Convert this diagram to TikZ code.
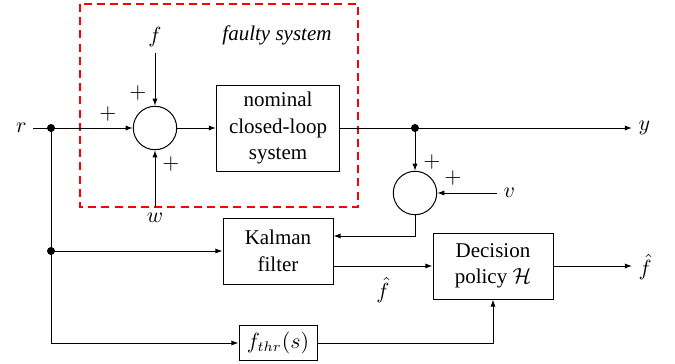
\documentclass[tikz,border=0pt]{standalone}
\usepackage{fontspec}
\setmainfont{LiberationSerif}[Extension=.ttf, UprightFont=*-Regular, ItalicFont=*-Italic, BoldFont=*-Bold, BoldItalicFont=*-BoldItalic]
\usetikzlibrary{arrows.meta,calc}
\tikzset{
  every picture/.style={line width=0.5pt},
  >={Latex[length=3.6pt,width=2.6pt]},
  blk/.style={draw, rectangle, inner sep=0pt, align=center, font=\fontsize{10.5}{13.25}\selectfont},
  sumc/.style={draw, circle, inner sep=0pt, minimum size=21.7pt},
  lbl/.style={inner sep=3pt, font=\fontsize{10.5}{13}\selectfont},
  pls/.style={inner sep=0pt, font=\fontsize{10.5}{13}\selectfont},
  dotc/.style={circle, fill, inner sep=0pt, minimum size=4pt},
  faultybox/.style={draw=red, dash pattern=on 4pt off 2.6pt, line width=0.75pt},
}
\begin{document}
\begin{tikzpicture}[x=0.5pt,y=-0.5pt]
\useasboundingbox (0,0) rectangle (675,364);
% faulty system frame
\draw[faultybox] (80,4) rectangle (358,207);
\node[lbl, font=\fontsize{10.5}{13}\selectfont\itshape] (faulty) at (277,35) {faulty system};
% blocks
\node[sumc] (sum1) at (155,128) {};
\node[blk, minimum width=61.5pt, minimum height=43pt] (nom) at (278,128) {nominal\\closed-loop\\system};
\node[sumc] (sum2) at (415,193) {};
\node[blk, minimum width=55pt, minimum height=33pt] (kal) at (278,251) {Kalman\\filter};
\node[blk, minimum width=60pt, minimum height=33pt] (dec) at (493,266) {Decision\\policy $\mathcal{H}$};
\node[blk, minimum width=39pt, minimum height=17.5pt] (thr) at (278,343) {$f_{thr}(s)$};
% junctions
\node[dotc] (j1) at (51,128) {};
\node[dotc] (j2) at (415,128) {};
\node[dotc] (j3) at (51,251) {};
% signal labels
\node[lbl, anchor=east] (r) at (33,128) {$r$};
\node[lbl, anchor=south] (f) at (155,53) {$f$};
\node[lbl, anchor=north] (w) at (155,207) {$w$};
\node[lbl, anchor=west] (y) at (632,128) {$y$};
\node[lbl, anchor=west] (v) at (497,193) {$v$};
\node[lbl, anchor=west] (fout) at (632,267) {$\hat{f}$};
\node[lbl] (fmid) at (383,290) {$\hat{f}$};
% plus signs
\node[pls] (p1) at (138,93) {$+$};
\node[pls] (p2) at (108,114) {$+$};
\node[pls] (p3) at (171,164) {$+$};
\node[pls] (p4) at (432,162) {$+$};
\node[pls] (p5) at (453,178) {$+$};
% connectors
\draw[->] (r.east) -- (sum1.west);
\draw[->] (f.south) -- (sum1.north);
\draw[->] (w.north) -- (sum1.south);
\draw[->] (sum1.east) -- (nom.west);
\draw[->] (nom.east) -- (nom.east -| y.west);
\draw[->] (j2.center) -- (sum2.north);
\draw[->] (v.west) -- (sum2.east);
\draw[->] (sum2.south) |- ([yshift=7.5pt]kal.east);
\draw (j1.center) -- (j3.center);
\draw[->] (j3.center) -- (kal.west);
\draw[->] (j3.center) |- (thr.west);
\draw[->] (kal.east |- dec.west) -- (dec.west);
\draw[->] (dec.east) -- (dec.east -| fout.west);
\draw[->] (thr.east) -| (dec.south);
\end{tikzpicture}
\end{document}
